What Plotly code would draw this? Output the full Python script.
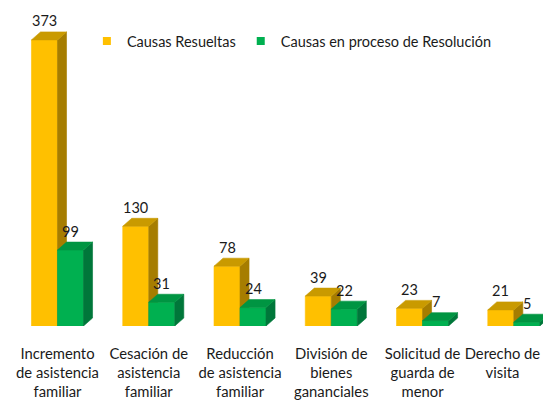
import plotly.graph_objects as go

categories = [
    "Incremento<br>de asistencia<br>familiar",
    "Cesación de<br>asistencia<br>familiar",
    "Reducción<br>de asistencia<br>familiar",
    "División de<br>bienes<br>gananciales",
    "Solicitud de<br>guarda de<br>menor",
    "Derecho de<br>visita",
]
resueltas = [373, 130, 78, 39, 23, 21]
en_proceso = [99, 31, 24, 22, 7, 5]
series_names = ["Causas Resueltas", "Causas en proceso de Resolución"]

# style
W = 0.285      # front width of one bar (category units)
DX = 0.099     # depth offset in x (category units)
DY = 10.4      # depth offset in y (value units)
FONT = "Lato"
FS = 14.8
yellow = dict(front="#FFC000", side="#A67D00", top="#C99A00")
green = dict(front="#00B050", side="#00773A", top="#009542")

fig = go.Figure()


def face(xs, ys, color):
    fig.add_trace(go.Scatter(
        x=xs + [xs[0]], y=ys + [ys[0]], mode="lines", fill="toself",
        fillcolor=color, line=dict(color=color, width=0.6),
        showlegend=False, hoverinfo="skip"))


annotations = []
for vals, offset, col in [(resueltas, -W, yellow), (en_proceso, 0.0, green)]:
    for i, v in enumerate(vals):
        x0 = i + offset
        x1 = x0 + W
        # front
        face([x0, x1, x1, x0], [0, 0, v, v], col["front"])
        # side
        face([x1, x1 + DX, x1 + DX, x1], [0, DY, v + DY, v], col["side"])
        # top
        face([x0, x1, x1 + DX, x0 + DX], [v, v, v + DY, v + DY], col["top"])
        annotations.append(dict(
            x=(x0 + x1) / 2, y=v, xref="x", yref="y", text=str(v),
            showarrow=False, yshift=19, yanchor="middle",
            font=dict(family=FONT, size=14.5, color="#1a1a1a")))

for name, col in zip(series_names, [yellow, green]):
    fig.add_trace(go.Scatter(
        x=[None], y=[None], mode="markers", name=name,
        marker=dict(symbol="square", size=8, color=col["front"])))

# the last label is nudged left (as in the original) so it fits in the frame
pad = "\u00a0" * 6
ticktext = list(categories[:-1]) + [
    "<br>".join(line + pad for line in categories[-1].split("<br>"))
]

fig.update_layout(
    width=543, height=400,
    margin=dict(l=0, r=0, t=0, b=74),
    paper_bgcolor="white", plot_bgcolor="white",
    annotations=annotations,
    showlegend=True,
    legend=dict(orientation="h", x=0.16, xanchor="left", y=0.874, yanchor="middle",
                font=dict(family=FONT, size=14.5, color="#1a1a1a"),
                bgcolor="rgba(0,0,0,0)"),
    xaxis=dict(range=[-0.63, 5.32], tickvals=list(range(len(categories))),
               ticktext=ticktext, showgrid=False, zeroline=False,
               showline=False, ticks="", ticklabelstandoff=17, automargin=False,
               ticklabeloverflow="allow",
               tickfont=dict(family=FONT, size=FS, color="#1a1a1a")),
    yaxis=dict(range=[0, 425], visible=False),
)

fig.write_html(
    "out.html",
    config={"displayModeBar": False},
    post_script="document.body.style.margin='0';document.body.style.overflow='hidden';",
)
